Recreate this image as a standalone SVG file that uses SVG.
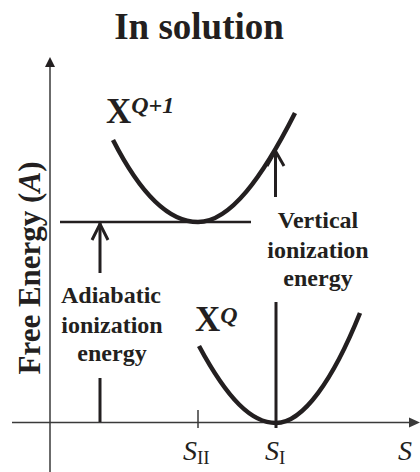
<svg xmlns="http://www.w3.org/2000/svg" width="420" height="472" viewBox="0 0 420 472">
<defs>
<style>
.t{font-family:"Liberation Serif","Times New Roman",serif;font-weight:bold;fill:#231f20}
.s{font-family:"Liberation Serif","Times New Roman",serif;fill:#231f20}
.curve{fill:none;stroke:#231f20;stroke-width:4.5;stroke-linecap:butt}
.arr{fill:none;stroke:#231f20;stroke-width:3}
.axis{fill:none;stroke:#3a3a3a;stroke-width:1.5}
</style>
</defs>
<rect width="420" height="472" fill="#fff"/>
<text class="t" x="199" y="39" font-size="37" text-anchor="middle">In solution</text>
<g id="axes">
<line class="axis" x1="50" y1="64" x2="50" y2="472"/>
<polygon points="50,57 45,67 55,67" fill="#231f20"/>
<line class="axis" x1="12" y1="422.5" x2="412" y2="422.5"/>
<polygon points="420,422.5 409,417.5 409,427.5" fill="#3a3a3a"/>
<line class="axis" x1="198" y1="410" x2="198" y2="428" stroke-width="2"/>
<text class="t" transform="translate(40,268) rotate(-90)" font-size="31" text-anchor="middle">Free Energy (<tspan font-style="italic">A</tspan>)</text>
</g>
<g id="upper-curve">
<path class="curve" d="M113,140 C140,193 168,222 198,222 C230,222 262,178 295,113"/>
<text class="t" x="106" y="123" font-size="35">X<tspan font-style="italic" font-size="24" dy="-10">Q+1</tspan></text>
</g>
<g id="lower-curve">
<path class="curve" d="M199,346 C228,400 252,423 276,423 C303,423 333,380 360,313"/>
<text class="t" x="195" y="331" font-size="35">X<tspan font-style="italic" font-size="24" dy="-8">Q</tspan></text>
</g>
<g id="connectors">
<line x1="60" y1="222" x2="251" y2="222" stroke="#231f20" stroke-width="2.5"/>
<line class="arr" x1="100" y1="223" x2="100" y2="273"/>
<polyline class="arr" points="92,240 100,224 108,240"/>
<line class="arr" x1="100" y1="378" x2="100" y2="422"/>
<line class="arr" x1="275.5" y1="151" x2="275.5" y2="197"/>
<polyline class="arr" points="267,166 275.5,151 284,166"/>
<line class="arr" x1="276" y1="302" x2="276" y2="428"/>
</g>
<g id="labels">
<text class="t" font-size="24" text-anchor="middle"><tspan x="318" y="228">Vertical</tspan><tspan x="318" y="258">ionization</tspan><tspan x="318" y="286">energy</tspan></text>
<text class="t" font-size="24" text-anchor="middle"><tspan x="111" y="303">Adiabatic</tspan><tspan x="112" y="333">ionization</tspan><tspan x="112" y="361">energy</tspan></text>
<text class="s" x="183" y="460" font-size="28" font-style="italic">S<tspan font-style="normal" font-size="19" dy="4">II</tspan></text>
<text class="s" x="265" y="460" font-size="28" font-style="italic">S<tspan font-style="normal" font-size="19" dy="4">I</tspan></text>
<text class="s" x="398" y="460" font-size="28" font-style="italic">S</text>
</g>
</svg>
